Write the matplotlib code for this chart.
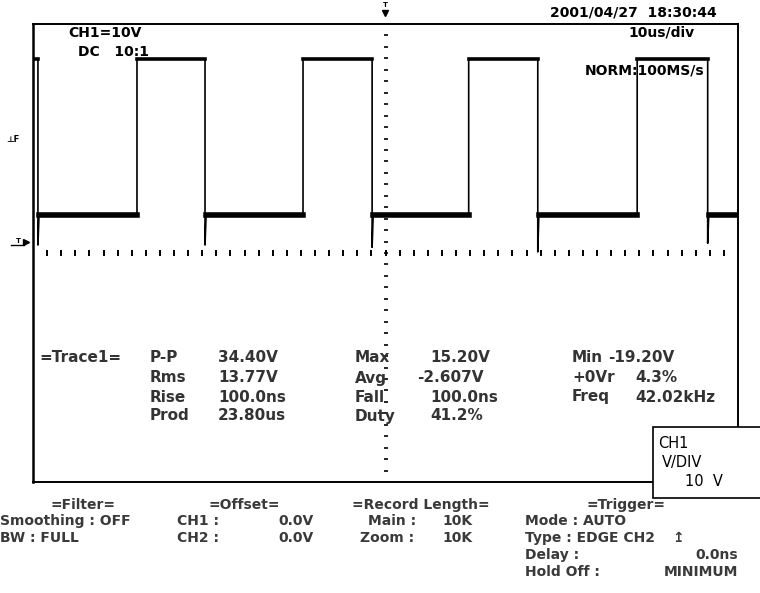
import numpy as np
import matplotlib.pyplot as plt
import matplotlib.transforms as mtransforms
from matplotlib.patches import Rectangle

# screen: 10 div x 10us, 8 div x 10V (centre = 0)
fall_us = [0.7, 24.4, 48.1, 71.6, 95.7]
rise_us = [14.75, 38.3, 61.8, 85.7]
undershoot_v = [1.4, 1.4, 1.0, 0.2, 1.7]
high_v = 33.9
low_v = 6.6

trace_name = "=Trace1="
meas_a = ["P-P", "Rms", "Rise", "Prod"]
meas_a_val = ["34.40V", "13.77V", "100.0ns", "23.80us"]
meas_b = ["Max", "Avg", "Fall", "Duty"]
meas_b_val = ["15.20V", "-2.607V", "100.0ns", "41.2%"]
meas_c = ["Min", "+0Vr", "Freq"]
meas_c_val = ["-19.20V", "4.3%", "42.02kHz"]

W, H = 760, 593
fig = plt.figure(figsize=(W / 100, H / 100), dpi=100)
fig.patch.set_facecolor("white")

# screen area in pixels (left, top, right, bottom)
L, T, R, B = 33, 24, 738, 482
ax = fig.add_axes([L / W, 1 - B / H, (R - L) / W, (B - T) / H])
ax.set_xlim(0, 100)
ax.set_ylim(-40, 40)
ax.axis("off")

# pixel transform (top-left origin)
pix = mtransforms.Affine2D().scale(1 / W, -1 / H).translate(0, 1) + fig.transFigure

# build the trace from the edges
events = sorted([(t, "f", u) for t, u in zip(fall_us, undershoot_v)] +
                [(t, "r", None) for t in rise_us])
t = [0.0]
v = [high_v]
level = high_v
hi_segs, lo_segs = [], []
start = 0.0
for tt, kind, u in events:
    if kind == "f":
        hi_segs.append((start, tt))
        t += [tt, tt, tt + 0.15]
        v += [high_v, u, low_v]
        level = low_v
        start = tt + 0.15
    else:
        lo_segs.append((start, tt))
        t += [tt, tt]
        v += [low_v, high_v]
        level = high_v
        start = tt
t.append(100.0)
v.append(level)
if level == high_v:
    hi_segs.append((start, 100.0))
else:
    lo_segs.append((start, 100.0))

ax.plot(t, v, color="black", lw=1.2, zorder=3)
for a, b in hi_segs:
    ax.plot([a, b], [high_v, high_v], color="black", lw=2.6, zorder=3)
for a, b in lo_segs:
    ax.plot([a, b], [low_v, low_v], color="black", lw=4.0, zorder=3)

# centre graticule ticks
xt = np.arange(2, 100, 2)
ax.plot(xt, np.zeros_like(xt), ls="none", marker="|", ms=4, mew=1.4, color="black")
yt = np.arange(-38, 40, 2)
ax.plot(np.full_like(yt, 50), yt, ls="none", marker="_", ms=3.5, mew=1.2, color="black")

# frame
def pline(xs, ys, lw=1.4, z=4):
    ax.plot(xs, ys, color="black", lw=lw, transform=pix, clip_on=False, zorder=z)

pline([L, R], [T, T])
pline([L, L], [T, B], lw=1.8)
pline([L, 653], [B, B])
pline([R, R], [T, 427])

def ptext(x, y, s, size=10, color="#222222", ha="left", z=2, weight="bold"):
    ax.text(x, y, s, transform=pix, fontsize=size, color=color, ha=ha, va="center",
            fontweight=weight, clip_on=False, zorder=z, family="DejaVu Sans")

# top labels
ptext(68, 33, "CH1=10V", color="black")
ptext(78, 52, "DC   10:1", color="black", z=1)
ptext(550, 13, "2001/04/27  18:30:44", color="black")
ptext(628, 33, "10us/div", color="black")
ptext(585, 70, "NORM:100MS/s", color="black", z=1)

# markers
ptext(385, 5, "T", size=5, color="black", ha="center")
ax.plot([385], [13], marker="v", ms=5, color="black", transform=pix, clip_on=False)
ptext(13, 140, "⊥F", size=6, color="black", ha="center")
ptext(18, 241, "T", size=5, color="black", ha="center")
pline([11, 24], [245, 245], lw=1)
ax.plot([26], [242], marker=">", ms=5, color="black", transform=pix, clip_on=False)

# measurements
m = "#333333"
rows_y = [358, 378, 397, 416]
ptext(39, rows_y[0], trace_name, size=11, color=m)
for i, y in enumerate(rows_y):
    ptext(150, y, meas_a[i], size=11, color=m)
    ptext(218, y, meas_a_val[i], size=11, color=m)
    ptext(355, y, meas_b[i], size=11, color=m)
    ptext(417 if meas_b_val[i].startswith("-") else 430, y, meas_b_val[i], size=11, color=m)
for i, y in enumerate(rows_y[:3]):
    ptext(572, y, meas_c[i], size=11, color=m)
    ptext(608 if meas_c_val[i].startswith("-") else 635, y, meas_c_val[i], size=11, color=m)

# CH1 box
ax.add_patch(Rectangle((653, 427), 115, 71, transform=pix, facecolor="white",
                       edgecolor="black", lw=1.2, clip_on=False, zorder=5))
ptext(658, 443, "CH1", size=10.5, z=6, weight="normal", color="black")
ptext(662, 462, "V/DIV", size=10.5, z=6, weight="normal", color="black")
ptext(685, 482, "10  V", size=10.5, z=6, weight="normal", color="black")

# bottom settings
g = "#3a3a3a"
ptext(50, 505, "=Filter=", color=g)
ptext(208, 505, "=Offset=", color=g)
ptext(352, 505, "=Record Length=", color=g)
ptext(587, 505, "=Trigger=", color=g)
ptext(0, 521, "Smoothing : OFF", color=g)
ptext(0, 538, "BW : FULL", color=g)
ptext(177, 521, "CH1 :", color=g)
ptext(177, 538, "CH2 :", color=g)
ptext(278, 521, "0.0V", color=g)
ptext(278, 538, "0.0V", color=g)
ptext(368, 521, "Main :", color=g)
ptext(360, 538, "Zoom :", color=g)
ptext(442, 521, "10K", color=g)
ptext(442, 538, "10K", color=g)
ptext(525, 521, "Mode : AUTO", color=g)
ptext(525, 538, "Type : EDGE CH2", color=g)
ptext(672, 538, "↥", color=g)
ptext(525, 555, "Delay :", color=g)
ptext(738, 555, "0.0ns", color=g, ha="right")
ptext(525, 572, "Hold Off :", color=g)
ptext(738, 572, "MINIMUM", color=g, ha="right")

fig.savefig("out.png", dpi=100)
